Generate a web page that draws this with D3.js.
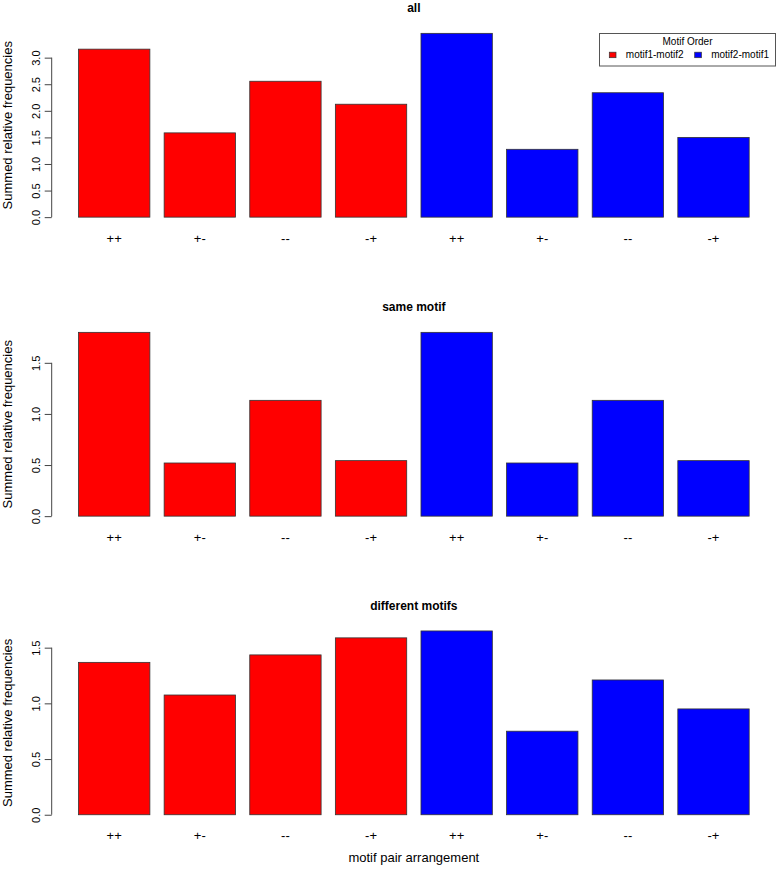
<!DOCTYPE html>
<html>
<head>
<meta charset="utf-8">
<script src="https://cdn.jsdelivr.net/npm/d3@7"></script>
<style>
  html, body { margin: 0; padding: 0; background: #fff; }
  svg { display: block; font-family: "Liberation Sans", Arial, Helvetica, sans-serif; }
</style>
</head>
<body>
<svg id="chart" width="778" height="869"></svg>
<script>
// ---- data ----
const categories = ["++", "+-", "--", "-+"];
const seriesNames = ["motif1-motif2", "motif2-motif1"];
const seriesColors = ["#ff0000", "#0000ff"];
const panelTitles = ["all", "same motif", "different motifs"];

const allMotif1Motif2 = [3.16, 1.585, 2.556, 2.124];
const allMotif2Motif1 = [3.457, 1.276, 2.34, 1.50];
const sameMotif1Motif2 = [1.798, 0.52, 1.133, 0.543];
const sameMotif2Motif1 = [1.798, 0.52, 1.133, 0.543];
const diffMotif1Motif2 = [1.368, 1.075, 1.435, 1.588];
const diffMotif2Motif1 = [1.65, 0.75, 1.21, 0.95];

const tickValuesAll = [0, 0.5, 1.0, 1.5, 2.0, 2.5, 3.0];
const tickValuesSame = [0, 0.5, 1.0, 1.5];
const tickValuesDiff = [0, 0.5, 1.0, 1.5];

const yLabel = "Summed relative frequencies";
const xLabel = "motif pair arrangement";
const legendTitle = "Motif Order";

const panels = [
  { title: panelTitles[0], series: [allMotif1Motif2, allMotif2Motif1], ticks: tickValuesAll },
  { title: panelTitles[1], series: [sameMotif1Motif2, sameMotif2Motif1], ticks: tickValuesSame },
  { title: panelTitles[2], series: [diffMotif1Motif2, diffMotif2Motif1], ticks: tickValuesDiff }
];

// ---- layout ----
const W = 778, H = 869;
const plotLeft = 51.7, plotRight = 776;
const panelTops = [26, 325, 623.6];
const plotH = 198.5;

const svg = d3.select("#chart");

// bars laid out like R barplot: width 1, space 0.2
const bars = [];
seriesNames.forEach((s, si) => {
  categories.forEach((c, ci) => {
    bars.push({ series: si, cat: c, idx: si * categories.length + ci });
  });
});
const nBars = bars.length;
const xMin = 0.2, xMax = 1.2 * nBars;
const xPad = 0.04 * (xMax - xMin);
const x = d3.scaleLinear().domain([xMin - xPad, xMax + xPad]).range([plotLeft, plotRight]);

panels.forEach((p, pi) => {
  const top = panelTops[pi];
  const bottom = top + plotH;
  const vals = bars.map(b => p.series[b.series][categories.indexOf(b.cat)]);
  const maxV = d3.max(vals);
  const y = d3.scaleLinear().domain([-0.04 * maxV, 1.04 * maxV]).range([bottom, top]);
  const g = svg.append("g");

  // bars
  g.selectAll("rect.bar").data(bars).enter().append("rect")
    .attr("class", "bar")
    .attr("x", b => x(0.2 + 1.2 * b.idx))
    .attr("width", b => x(1.2 + 1.2 * b.idx) - x(0.2 + 1.2 * b.idx))
    .attr("y", (b, i) => y(vals[i]))
    .attr("height", (b, i) => y(0) - y(vals[i]))
    .attr("fill", b => seriesColors[b.series])
    .attr("stroke", "#333")
    .attr("stroke-width", 0.8);

  // y axis
  const ax = d3.axisLeft(y).tickValues(p.ticks).tickSize(7).tickFormat(d3.format(".1f"));
  const axG = g.append("g").attr("transform", `translate(${plotLeft},0)`).call(ax);
  axG.select(".domain").attr("d", `M-0,${y(p.ticks[0])}V${y(p.ticks[p.ticks.length - 1])}`)
    .attr("stroke", "#444");
  axG.selectAll(".tick line").attr("stroke", "#444");
  axG.selectAll(".tick text")
    .attr("x", null).attr("dy", null)
    .attr("transform", "translate(-12,0) rotate(-90)")
    .attr("text-anchor", "middle")
    .attr("font-size", 11)
    .attr("font-family", "Liberation Sans, Arial, sans-serif")
    .attr("fill", "#000");

  // y label
  g.append("text")
    .attr("transform", `translate(12,${(top + bottom) / 2}) rotate(-90)`)
    .attr("text-anchor", "middle")
    .attr("font-size", 13)
    .text(yLabel);

  // category labels
  g.selectAll("text.cat").data(bars).enter().append("text")
    .attr("class", "cat")
    .attr("x", b => x(0.7 + 1.2 * b.idx))
    .attr("y", bottom + 18)
    .attr("text-anchor", "middle")
    .attr("font-size", 13)
    .text(b => b.cat);

  // title
  g.append("text")
    .attr("x", (plotLeft + plotRight) / 2)
    .attr("y", top - 14)
    .attr("text-anchor", "middle")
    .attr("font-size", 12)
    .attr("font-weight", "bold")
    .text(p.title);
});

// x label
svg.append("text")
  .attr("x", (plotLeft + plotRight) / 2)
  .attr("y", 862)
  .attr("text-anchor", "middle")
  .attr("font-size", 13)
  .text(xLabel);

// legend
const lg = svg.append("g");
lg.append("rect").attr("x", 599.5).attr("y", 33.5).attr("width", 176).attr("height", 32.5)
  .attr("fill", "#fff").attr("stroke", "#555").attr("stroke-width", 1);
lg.append("text").attr("x", 687.5).attr("y", 44.5).attr("text-anchor", "middle")
  .attr("font-size", 10).text(legendTitle);
const legX = [609.3, 694.7];
seriesNames.forEach((s, i) => {
  lg.append("rect").attr("x", legX[i]).attr("y", 52.2).attr("width", 6.7).attr("height", 5.5)
    .attr("fill", seriesColors[i]).attr("stroke", "#333").attr("stroke-width", 0.7);
  lg.append("text").attr("x", legX[i] + 16.5).attr("y", 58.3).attr("font-size", 10).text(s);
});
</script>
</body>
</html>
